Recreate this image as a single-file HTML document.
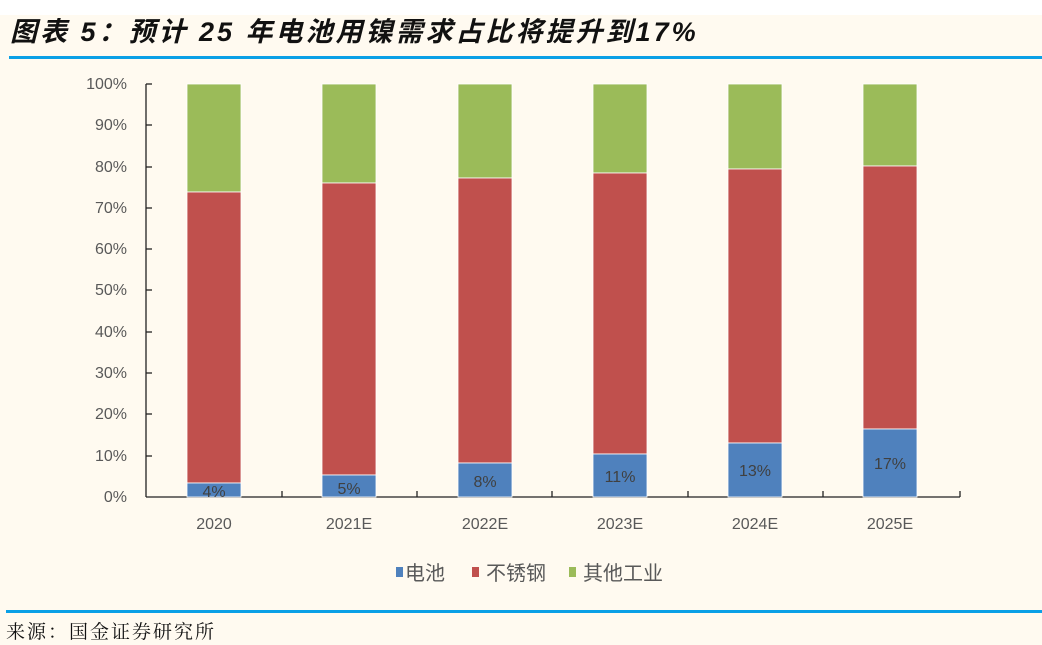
<!DOCTYPE html><html><head><meta charset="utf-8"><style>
body{margin:0;width:1042px;height:645px;overflow:hidden;background:#fff;font-family:"Liberation Sans","Noto Sans CJK SC",sans-serif}
</style></head><body>
<svg width="1042" height="645" xmlns="http://www.w3.org/2000/svg" style="position:absolute;left:0;top:0">
<rect x="0" y="15" width="1042" height="630" fill="#fffaf0"/>
<text x="10" y="41" font-size="27" letter-spacing="3" font-weight="bold" font-style="italic" fill="#111" font-family="'Liberation Sans','Noto Sans CJK SC',sans-serif">图表 5：预计 25 年电池用镍需求占比将提升到17%</text>
<rect x="9" y="56" width="1033" height="3" fill="#0aa0e6"/>
<rect x="6" y="610" width="1036" height="3" fill="#0aa0e6"/>
<text x="6" y="638" font-size="19" letter-spacing="2" fill="#111" font-family="'Liberation Serif','Noto Serif CJK SC',serif">来源：国金证券研究所</text>
<g font-size="16" fill="#595959" text-anchor="end">
<text x="127" y="502">0%</text><text x="127" y="461">10%</text><text x="127" y="419">20%</text><text x="127" y="378">30%</text><text x="127" y="337">40%</text><text x="127" y="295">50%</text><text x="127" y="254">60%</text><text x="127" y="213">70%</text><text x="127" y="172">80%</text><text x="127" y="130">90%</text><text x="127" y="89">100%</text>
</g>
<g stroke="#222" stroke-width="1.3">
<line x1="146" y1="84" x2="146" y2="497"/><line x1="146" y1="497" x2="960" y2="497"/>
<line x1="146" y1="84" x2="152" y2="84"/><line x1="146" y1="125" x2="152" y2="125"/><line x1="146" y1="167" x2="152" y2="167"/><line x1="146" y1="208" x2="152" y2="208"/><line x1="146" y1="249" x2="152" y2="249"/><line x1="146" y1="290" x2="152" y2="290"/><line x1="146" y1="332" x2="152" y2="332"/><line x1="146" y1="373" x2="152" y2="373"/><line x1="146" y1="414" x2="152" y2="414"/><line x1="146" y1="456" x2="152" y2="456"/>
<line x1="282" y1="491" x2="282" y2="497"/><line x1="417" y1="491" x2="417" y2="497"/><line x1="552" y1="491" x2="552" y2="497"/><line x1="688" y1="491" x2="688" y2="497"/><line x1="823" y1="491" x2="823" y2="497"/><line x1="960" y1="491" x2="960" y2="497"/>
</g>
<g stroke="#fff" stroke-width="0.8">
<rect x="187" y="84" width="54" height="108" fill="#9bbb59"/><rect x="187" y="192" width="54" height="291" fill="#c0504d"/><rect x="187" y="483" width="54" height="14" fill="#4f81bd"/>
<rect x="322" y="84" width="54" height="99" fill="#9bbb59"/><rect x="322" y="183" width="54" height="292" fill="#c0504d"/><rect x="322" y="475" width="54" height="22" fill="#4f81bd"/>
<rect x="458" y="84" width="54" height="94" fill="#9bbb59"/><rect x="458" y="178" width="54" height="285" fill="#c0504d"/><rect x="458" y="463" width="54" height="34" fill="#4f81bd"/>
<rect x="593" y="84" width="54" height="89" fill="#9bbb59"/><rect x="593" y="173" width="54" height="281" fill="#c0504d"/><rect x="593" y="454" width="54" height="43" fill="#4f81bd"/>
<rect x="728" y="84" width="54" height="85" fill="#9bbb59"/><rect x="728" y="169" width="54" height="274" fill="#c0504d"/><rect x="728" y="443" width="54" height="54" fill="#4f81bd"/>
<rect x="863" y="84" width="54" height="82" fill="#9bbb59"/><rect x="863" y="166" width="54" height="263" fill="#c0504d"/><rect x="863" y="429" width="54" height="68" fill="#4f81bd"/>
</g>
<g font-size="16" fill="#404040" text-anchor="middle">
<text x="214" y="497">4%</text><text x="349" y="494">5%</text><text x="485" y="487">8%</text><text x="620" y="482">11%</text><text x="755" y="476">13%</text><text x="890" y="469">17%</text>
</g>
<g font-size="16" fill="#595959" text-anchor="middle">
<text x="214" y="529">2020</text><text x="349" y="529">2021E</text><text x="485" y="529">2022E</text><text x="620" y="529">2023E</text><text x="755" y="529">2024E</text><text x="890" y="529">2025E</text>
</g>
<g font-size="20" fill="#595959">
<rect x="396" y="567" width="7" height="10" fill="#4f81bd"/><text x="405" y="580">电池</text>
<rect x="472" y="567" width="7" height="10" fill="#c0504d"/><text x="486" y="580">不锈钢</text>
<rect x="569" y="567" width="7" height="10" fill="#9bbb59"/><text x="583" y="580">其他工业</text>
</g>
</svg>
</body></html>
